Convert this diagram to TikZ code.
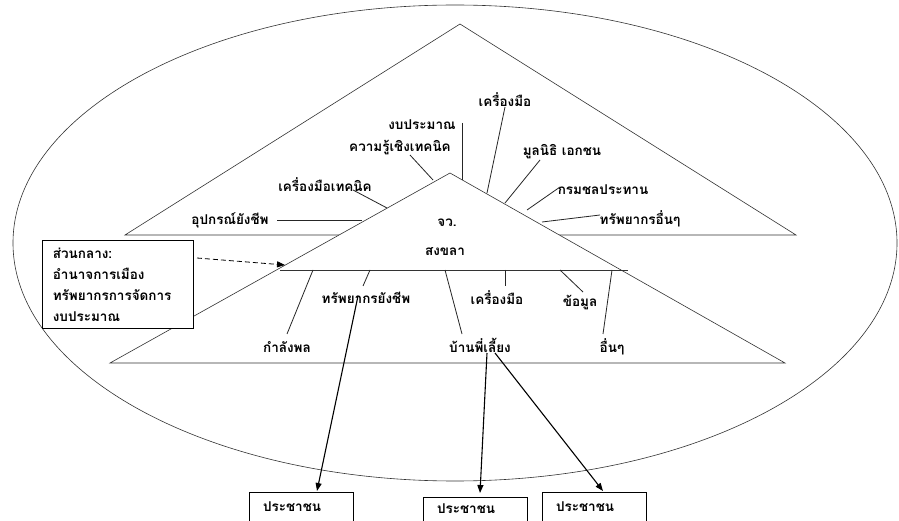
\documentclass[tikz,border=0pt]{standalone}
\usepackage{fontspec}
\newfontfamily\thaifont[Script=Thai]{Loma}
\usetikzlibrary{arrows.meta}
\begin{document}
\begin{tikzpicture}[x=1pt,y=-1pt,
  lbl/.style={font=\thaifont\bfseries\fontsize{13.5}{15}\selectfont, inner sep=1pt},
  outline/.style={line width=0.6pt, draw=black!80},
  link/.style={line width=0.8pt, draw=black!85},
  flow/.style={line width=1.1pt, -{Triangle[length=8pt,width=6pt]}},
  cue/.style={line width=0.8pt, dashed, dash pattern=on 5pt off 3pt, -{Triangle[length=8pt,width=6pt]}},
  peoplebox/.style={draw, line width=0.7pt, fill=white, minimum width=104pt, minimum height=34pt,
    inner xsep=14pt, font=\thaifont\bfseries\fontsize{13.5}{15}\selectfont, text width=76pt, align=left}]
\useasboundingbox (0,0) rectangle (899,521);
\clip (0,0) rectangle (899,521);
\fill[white] (0,0) rectangle (899,521);

% enclosing ellipse
\draw[outline] (455,243) ellipse [x radius=442, y radius=238];

% upper triangle of outside resources
\draw[outline, fill=white] (125,235) -- (460,24) -- (796,235) -- cycle;

% provincial triangle with its lower band
\draw[outline, fill=white] (110,363) -- (450,173) -- (785,363) -- cycle;
\draw[outline] (280,270) -- (628,270);

% labels above the province
\node[lbl] (budget) at (422,125) {งบประมาณ};
\node[lbl] (know)   at (400,148) {ความรู้เชิงเทคนิค};
\node[lbl] (ttool)  at (325,185) {เครื่องมือเทคนิค};
\node[lbl] (equip)  at (230,220) {อุปกรณ์ยังชีพ};
\node[lbl] (tool)   at (505,100) {เครื่องมือ};
\node[lbl] (found)  at (562,152) {มูลนิธิ เอกชน};
\node[lbl] (irr)    at (603,190) {กรมชลประทาน};
\node[lbl] (other)  at (640,219) {ทรัพยากรอื่นๆ};

\coordinate (budgetA) at (462,123); \coordinate (budgetB) at (462,180);
\coordinate (knowA) at (410,155);   \coordinate (knowB) at (433,180);
\coordinate (ttoolA) at (353,190);  \coordinate (ttoolB) at (387,208);
\coordinate (equipA) at (277,220);  \coordinate (equipB) at (362,220);
\coordinate (toolA) at (505,107);   \coordinate (toolB) at (487,193);
\coordinate (foundA) at (540,160);  \coordinate (foundB) at (505,203);
\coordinate (irrA) at (560,187);    \coordinate (irrB) at (527,210);
\coordinate (otherA) at (600,215);  \coordinate (otherB) at (542,222);

\foreach \n in {budget,know,ttool,equip,tool,found,irr,other}
  \draw[link] (\n A) -- (\n B);

% province name
\node[lbl] (prov1) at (447,223) {จว.};
\node[lbl] (prov2) at (445,252) {สงขลา};

% labels in the lower band
\node[lbl] (staff)  at (287,347) {กำลังพล};
\node[lbl] (supply) at (366,298) {ทรัพยากรยังชีพ};
\node[lbl] (mentor) at (480,345) {บ้านพี่เลี้ยง};
\node[lbl] (ltool)  at (497,298) {เครื่องมือ};
\node[lbl] (data)   at (580,303) {ข้อมูล};
\node[lbl] (etc)    at (612,347) {อื่นๆ};

\coordinate (staffA) at (313,270);  \coordinate (staffB) at (287,334);
\coordinate (supplyA) at (370,270); \coordinate (supplyB) at (363,286);
\coordinate (mentorA) at (445,270); \coordinate (mentorB) at (462,334);
\coordinate (ltoolA) at (505,270);  \coordinate (ltoolB) at (505,286);
\coordinate (dataA) at (560,270);   \coordinate (dataB) at (583,292);
\coordinate (etcA) at (612,270);    \coordinate (etcB) at (603,334);

\foreach \n in {staff,supply,mentor,ltool,data,etc}
  \draw[link] (\n A) -- (\n B);

% central government box
\node[draw, line width=0.7pt, fill=white, minimum width=151pt, minimum height=88pt,
      text width=130pt, inner xsep=10pt, align=left, anchor=north west,
      font=\thaifont\bfseries\fontsize{13.5}{21}\selectfont] (central) at (42,240)
  {ส่วนกลาง:\\อำนาจการเมือง\\ทรัพยากรการจัดการ\\งบประมาณ};
\coordinate (cueA) at (197,258);
\coordinate (cueB) at (285,265);
\draw[cue] (cueA) -- (cueB);

% people: boxes run past the lower edge, texts stay inside
\node[peoplebox, minimum height=30pt] (p1) at (301,507) {ประชาชน};
\node[peoplebox, minimum height=24pt] (p2) at (475,509) {ประชาชน};
\node[peoplebox, minimum height=30pt] (p3) at (594,507) {ประชาชน};

\coordinate (supplyS) at (358,296);
\coordinate (mentorS1) at (487,353);
\coordinate (mentorS2) at (495,353);
\coordinate (p1T) at (317,491);
\coordinate (p2T) at (480,493);
\coordinate (p3T) at (603,491);
\draw[flow] (supplyS) -- (p1T);
\draw[flow] (mentorS1) -- (p2T);
\draw[flow] (mentorS2) -- (p3T);
\end{tikzpicture}
\end{document}
